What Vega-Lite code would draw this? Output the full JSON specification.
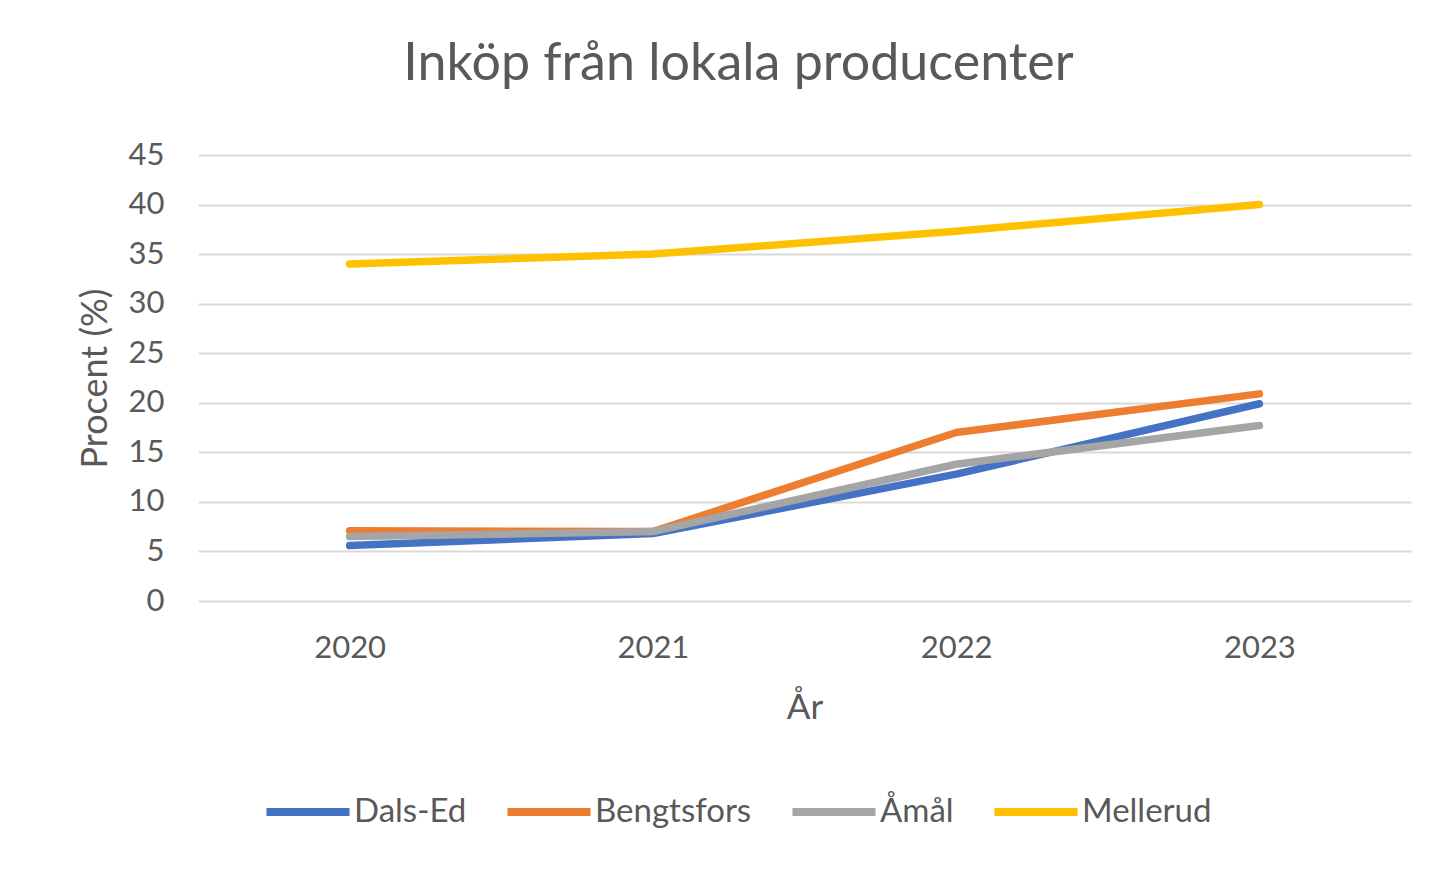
{
  "$schema": "https://vega.github.io/schema/vega-lite/v6.json",
  "autosize": "none",
  "width": 1213,
  "height": 446,
  "padding": {"left": 198, "top": 155, "right": 34, "bottom": 269},
  "background": "white",
  "title": {
    "text": "Inköp från lokala producenter",
    "anchor": "middle",
    "frame": "group",
    "dx": -66,
    "offset": 7,
    "baseline": "alphabetic",
    "font": "Lato",
    "fontSize": 52,
    "fontWeight": "normal",
    "color": "#595959"
  },
  "data": {
    "values": [
      {"year": "2020", "kommun": "Dals-Ed", "procent": 5.6},
      {"year": "2021", "kommun": "Dals-Ed", "procent": 6.8},
      {"year": "2022", "kommun": "Dals-Ed", "procent": 12.8},
      {"year": "2023", "kommun": "Dals-Ed", "procent": 19.9},
      {"year": "2020", "kommun": "Bengtsfors", "procent": 7.1},
      {"year": "2021", "kommun": "Bengtsfors", "procent": 7.0},
      {"year": "2022", "kommun": "Bengtsfors", "procent": 17.0},
      {"year": "2023", "kommun": "Bengtsfors", "procent": 20.9},
      {"year": "2020", "kommun": "Åmål", "procent": 6.5},
      {"year": "2021", "kommun": "Åmål", "procent": 7.0},
      {"year": "2022", "kommun": "Åmål", "procent": 13.8},
      {"year": "2023", "kommun": "Åmål", "procent": 17.7},
      {"year": "2020", "kommun": "Mellerud", "procent": 34.0},
      {"year": "2021", "kommun": "Mellerud", "procent": 35.0},
      {"year": "2022", "kommun": "Mellerud", "procent": 37.3},
      {"year": "2023", "kommun": "Mellerud", "procent": 40.0}
    ]
  },
  "mark": {"type": "line", "strokeWidth": 7.5, "strokeCap": "round", "strokeJoin": "round"},
  "encoding": {
    "x": {
      "field": "year",
      "type": "ordinal",
      "scale": {"type": "point", "padding": 0.5},
      "axis": {
        "title": "År",
        "labelAngle": 0,
        "labelFont": "Lato",
        "labelFontSize": 31,
        "labelColor": "#595959",
        "labelPadding": 32,
        "titleFont": "Lato",
        "titleFontSize": 35,
        "titleFontWeight": "normal",
        "titleColor": "#595959",
        "titlePadding": 27,
        "ticks": false,
        "domain": false,
        "grid": false
      }
    },
    "y": {
      "field": "procent",
      "type": "quantitative",
      "scale": {"domain": [0, 45], "nice": false},
      "axis": {
        "title": "Procent (%)",
        "values": [0, 5, 10, 15, 20, 25, 30, 35, 40, 45],
        "labelFont": "Lato",
        "labelFontSize": 31,
        "labelColor": "#595959",
        "labelPadding": 34,
        "titleFont": "Lato",
        "titleFontSize": 36,
        "titleFontWeight": "normal",
        "titleColor": "#595959",
        "titlePadding": 14,
        "ticks": false,
        "domain": false,
        "grid": true,
        "gridColor": "#D9D9D9",
        "gridWidth": 2
      }
    },
    "color": {
      "field": "kommun",
      "type": "nominal",
      "scale": {
        "domain": ["Dals-Ed", "Bengtsfors", "Åmål", "Mellerud"],
        "range": ["#4472C4", "#ED7D31", "#A5A5A5", "#FFC000"]
      },
      "legend": {
        "title": null,
        "orient": "none",
        "direction": "horizontal",
        "legendX": 64,
        "legendY": 611,
        "symbolType": "stroke",
        "symbolSize": 6900,
        "symbolStrokeWidth": 8,
        "labelFont": "Lato",
        "labelFontSize": 33,
        "labelColor": "#595959",
        "labelOffset": 0,
        "columnPadding": 24
      }
    }
  },
  "config": {
    "view": {"stroke": null}
  }
}
